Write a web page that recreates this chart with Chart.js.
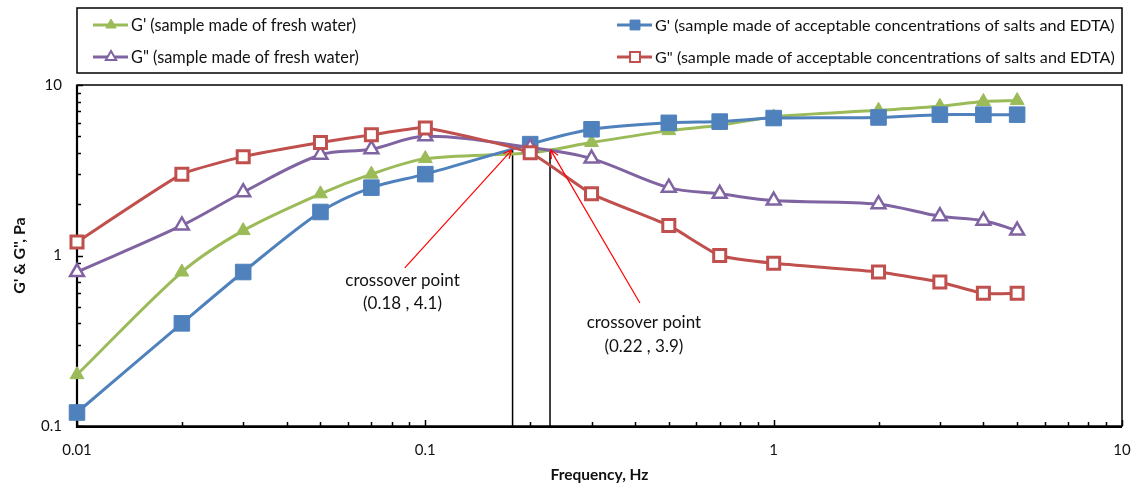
<!DOCTYPE html>
<html><head><meta charset="utf-8">
<script src="https://cdn.jsdelivr.net/npm/chart.js@4.4.0/dist/chart.umd.min.js"></script>
<style>html,body{margin:0;padding:0;background:#fff;}#wrap{width:1138px;height:489px;}</style>
</head><body><div id="wrap"><canvas id="c" width="1138" height="489"></canvas></div>
<script>
// ---- data ----
const frequency = [0.01,0.02,0.03,0.05,0.07,0.1,0.2,0.3,0.5,0.7,1,2,3,4,5];
const gPrimeFresh  = [0.2,0.8,1.4,2.3,3.0,3.7,4.0,4.6,5.4,5.8,6.5,7.1,7.5,8.0,8.1];
const gPrimeSalts  = [0.12,0.4,0.8,1.8,2.5,3.0,4.5,5.5,6.0,6.1,6.4,6.45,6.7,6.7,6.7];
const gDoubleFresh = [0.8,1.5,2.35,3.9,4.2,5.0,4.3,3.7,2.5,2.3,2.1,2.0,1.7,1.6,1.4];
const gDoubleSalts = [1.2,3.0,3.8,4.6,5.1,5.6,4.0,2.3,1.5,1.0,0.9,0.8,0.7,0.6,0.6];
const seriesNames = [
  "G' (sample made of fresh water)",
  "G' (sample made of acceptable concentrations of salts and EDTA)",
  "G\" (sample made of fresh water)",
  "G\" (sample made of acceptable concentrations of salts and EDTA)"
];
const xTickLabels = ['0.01','0.1','1','10'];
const yTickLabels = ['0.1','1','10'];
const xTitle = 'Frequency, Hz';
const yTitle = "G' & G'', Pa";
// crossover annotations
const crossLineX = [0.178, 0.228];
const crossLineTop = [4.2, 4.2];
const arrowTailX = [0.0873, 0.413];
const arrowTailY = [0.845, 0.526];
const arrowHeadX = [0.177, 0.229];
const arrowHeadY = [4.15, 4.15];
const noteText1 = ['crossover point','crossover point'];
const noteText2 = ['(0.18 , 4.1)','(0.22 , 3.9)'];
const noteX = [0.086, 0.424];
const noteY1 = [0.709, 0.407];
const noteY2 = [0.526, 0.2945];

const FONT = 'Lato, "Open Sans", sans-serif';
const TXT = '#111';
const xMajors = xTickLabels.map(Number);
const yMajors = yTickLabels.map(Number);

function pts(arr){ return frequency.map((f,i)=>({x:f,y:arr[i]})); }
function minorValues(majors){
  const out=[];
  for(let i=0;i<majors.length-1;i++){ for(let k=1;k<10;k++) out.push({v:majors[i]*k, major:k===1}); }
  out.push({v:majors[majors.length-1], major:true});
  return out;
}

const styles = [
  {color:'#9BBB59', style:'triangle', radius:8, bg:'#9BBB59', bw:1, tension:0.3, order:3},
  {color:'#4F81BD', style:'rect', radius:11, bg:'#4F81BD', bw:1, tension:0.3, order:2},
  {color:'#8064A2', style:'triangle', radius:8, bg:'#FFFFFF', bw:2.5, tension:0.35, order:1},
  {color:'#C0504D', style:'rect', radius:8.5, bg:'#FFFFFF', bw:3, tension:0.15, order:0}
];
const seriesData = [gPrimeFresh, gPrimeSalts, gDoubleFresh, gDoubleSalts];

const datasets = seriesData.map((arr,i)=>({
  label: seriesNames[i],
  data: pts(arr),
  borderColor: styles[i].color,
  borderWidth: 3,
  backgroundColor: styles[i].bg,
  pointStyle: styles[i].style,
  pointRadius: styles[i].radius,
  pointBackgroundColor: styles[i].bg,
  pointBorderColor: styles[i].color,
  pointBorderWidth: styles[i].bw,
  tension: styles[i].tension,
  order: styles[i].order,
  clip: false,
  fill: false
}));

const decor = {
  id:'decor',
  beforeDatasetsDraw(chart){
    const {ctx, chartArea:a, scales:{x,y}} = chart;
    ctx.save();
    ctx.strokeStyle='#000'; ctx.lineWidth=1.5;
    ctx.strokeRect(a.left, a.top, a.right-a.left, a.bottom-a.top);
    ctx.lineWidth=2.2;
    ctx.beginPath(); ctx.moveTo(a.left, a.top); ctx.lineTo(a.left, a.bottom+1); ctx.lineTo(a.right, a.bottom+1); ctx.stroke();
    ctx.lineWidth=1.5;
    minorValues(xMajors).forEach(t=>{
      const px=Math.round(x.getPixelForValue(t.v))+0.5; const L=t.major?6:4;
      ctx.beginPath(); ctx.moveTo(px,a.bottom); ctx.lineTo(px,a.bottom-L); ctx.stroke();
    });
    minorValues(yMajors).forEach(t=>{
      const py=Math.round(y.getPixelForValue(t.v))+0.5; const L=t.major?6:4;
      ctx.beginPath(); ctx.moveTo(a.left,py); ctx.lineTo(a.left+L,py); ctx.stroke();
    });
    ctx.lineWidth=1.5; ctx.strokeStyle='#000';
    crossLineX.forEach((cx,i)=>{
      const px=x.getPixelForValue(cx);
      ctx.beginPath(); ctx.moveTo(px,a.bottom); ctx.lineTo(px,y.getPixelForValue(crossLineTop[i])); ctx.stroke();
    });
    ctx.restore();
  },
  afterDraw(chart){
    const {ctx, chartArea:a, scales:{x,y}} = chart;
    ctx.save();
    ctx.strokeStyle='#FF0000'; ctx.lineWidth=1.2;
    arrowTailX.forEach((tx,i)=>{
      const x0=x.getPixelForValue(tx), y0=y.getPixelForValue(arrowTailY[i]);
      const x1=x.getPixelForValue(arrowHeadX[i]), y1=y.getPixelForValue(arrowHeadY[i]);
      ctx.beginPath(); ctx.moveTo(x0,y0); ctx.lineTo(x1,y1); ctx.stroke();
      const ang=Math.atan2(y1-y0,x1-x0), L=9, w=0.45;
      ctx.beginPath();
      ctx.moveTo(x1-L*Math.cos(ang-w), y1-L*Math.sin(ang-w));
      ctx.lineTo(x1,y1);
      ctx.lineTo(x1-L*Math.cos(ang+w), y1-L*Math.sin(ang+w));
      ctx.stroke();
    });
    ctx.fillStyle=TXT; ctx.font='17px '+FONT; ctx.textAlign='center'; ctx.textBaseline='middle';
    noteX.forEach((nx,i)=>{
      const px=x.getPixelForValue(nx);
      ctx.fillText(noteText1[i], px, y.getPixelForValue(noteY1[i]));
      ctx.fillText(noteText2[i], px, y.getPixelForValue(noteY2[i]));
    });
    ctx.font='bold 15.5px '+FONT; ctx.fillStyle=TXT;
    ctx.fillText(xTitle, (a.left+a.right)/2, 475);
    ctx.save(); ctx.translate(20,(a.top+a.bottom)/2); ctx.rotate(-Math.PI/2);
    ctx.font='bold 16px '+FONT;
    ctx.fillText(yTitle,0,0); ctx.restore();
    // legend
    ctx.strokeStyle='#000'; ctx.lineWidth=1.5;
    ctx.strokeRect(77, 8, a.right-77, 65);
    const pos = [ {lx:93, y:25}, {lx:617, y:25}, {lx:93, y:57}, {lx:617, y:57} ];
    const targetW = [225, 460, 228, 460];
    ctx.textAlign='left';
    pos.forEach((p,i)=>{
      const s=styles[i];
      ctx.strokeStyle=s.color; ctx.lineWidth=3;
      ctx.beginPath(); ctx.moveTo(p.lx,p.y); ctx.lineTo(p.lx+35,p.y); ctx.stroke();
      ctx.fillStyle=s.bg; ctx.strokeStyle=s.color; ctx.lineWidth=s.bw>1?2:1;
      Chart.helpers.drawPoint(ctx,{pointStyle:s.style, radius:s.style==='rect'?7:6, borderWidth:s.bw>1?2:1, rotation:0}, p.lx+18, p.y);
      let fs=16; ctx.font=fs+'px '+FONT;
      const w=ctx.measureText(seriesNames[i]).width; fs=Math.min(17,Math.max(13,fs*targetW[i]/w));
      ctx.font=fs.toFixed(2)+'px '+FONT; ctx.fillStyle=TXT;
      ctx.fillText(seriesNames[i], p.lx+38, p.y+1);
    });
    ctx.restore();
  }
};

new Chart(document.getElementById('c'), {
  type:'line',
  data:{datasets},
  options:{
    responsive:false, animation:false, devicePixelRatio:1,
    layout:{padding:{top:85,right:16,left:0,bottom:0}},
    plugins:{legend:{display:false}, tooltip:{enabled:false}},
    scales:{
      x:{type:'logarithmic', min:0.01, max:10,
         grid:{display:false, drawTicks:false}, border:{display:false},
         afterBuildTicks(s){ s.ticks = xMajors.map(v=>({value:v})); },
         afterFit(s){ s.height = 63; s.paddingLeft = 0; s.paddingRight = 0; },
         ticks:{autoSkip:false, maxRotation:0, padding:15, color:TXT, font:{family:FONT,size:15},
           callback(v){ const i=xMajors.findIndex(m=>Math.abs(m-v)/m<1e-6); return i>=0?xTickLabels[i]:''; }}
      },
      y:{type:'logarithmic', min:0.1, max:10,
         grid:{display:false, drawTicks:false}, border:{display:false},
         afterBuildTicks(s){ s.ticks = yMajors.map(v=>({value:v})); },
         afterFit(s){ s.width = 77; s.paddingTop = 0; s.paddingBottom = 0; },
         ticks:{autoSkip:false, padding:15, color:TXT, font:{family:FONT,size:15},
           callback(v){ const i=yMajors.findIndex(m=>Math.abs(m-v)/m<1e-6); return i>=0?yTickLabels[i]:''; }}
      }
    }
  },
  plugins:[decor]
});
</script></body></html>
